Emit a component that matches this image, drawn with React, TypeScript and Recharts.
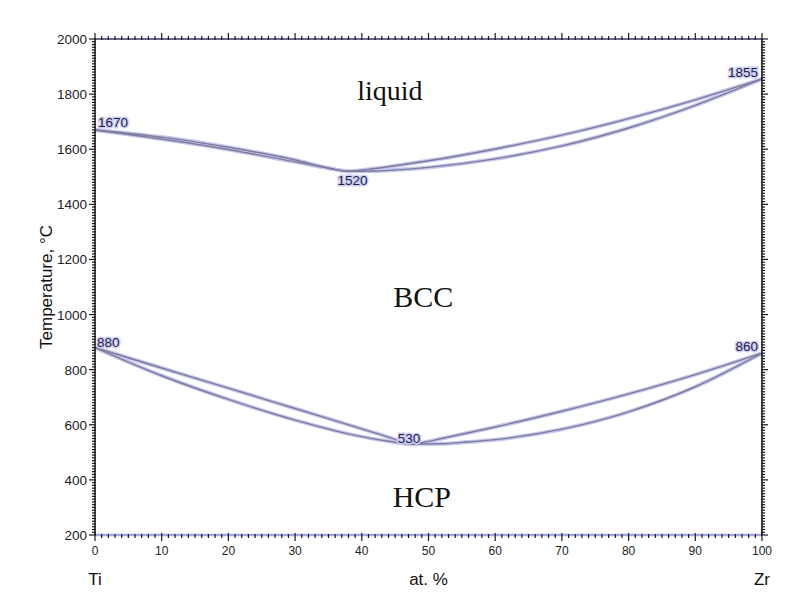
import React from 'react';
import { LineChart, Line, XAxis, YAxis, ReferenceDot } from 'recharts';

// Ti–Zr phase diagram
const liquidus = [
  { at: 0, t: 1670 }, { at: 10, t: 1644 }, { at: 20, t: 1607 }, { at: 30, t: 1561 },
  { at: 35, t: 1532 }, { at: 38, t: 1520 }, { at: 41, t: 1527 }, { at: 45, t: 1540 },
  { at: 50, t: 1558 }, { at: 60, t: 1601 }, { at: 70, t: 1651 }, { at: 80, t: 1711 },
  { at: 90, t: 1779 }, { at: 100, t: 1855 },
];
const solidus = [
  { at: 0, t: 1670 }, { at: 10, t: 1637 }, { at: 20, t: 1599 }, { at: 30, t: 1554 },
  { at: 35, t: 1531 }, { at: 38, t: 1520 }, { at: 42, t: 1521 }, { at: 46, t: 1526 },
  { at: 50, t: 1534 }, { at: 60, t: 1565 }, { at: 70, t: 1612 }, { at: 80, t: 1677 },
  { at: 90, t: 1759 }, { at: 100, t: 1855 },
];
const transusUpper = [
  { at: 0, t: 880 }, { at: 10, t: 806 }, { at: 20, t: 733 }, { at: 30, t: 659 },
  { at: 40, t: 585 }, { at: 44, t: 555 }, { at: 46, t: 539 }, { at: 47.5, t: 530 },
  { at: 49, t: 535 }, { at: 52, t: 550 }, { at: 60, t: 592 }, { at: 70, t: 649 },
  { at: 80, t: 712 }, { at: 90, t: 782 }, { at: 100, t: 860 },
];
const transusLower = [
  { at: 0, t: 880 }, { at: 10, t: 778 }, { at: 20, t: 692 }, { at: 30, t: 617 },
  { at: 40, t: 557 }, { at: 44, t: 540 }, { at: 47.5, t: 530 }, { at: 52, t: 531 },
  { at: 55, t: 536 }, { at: 60, t: 546 }, { at: 70, t: 584 }, { at: 80, t: 647 },
  { at: 90, t: 738 }, { at: 100, t: 860 },
];

const pointLabels = [
  { at: 0, t: 1670, text: '1670', dx: 3, dy: -3, anchor: 'start' },
  { at: 38, t: 1520, text: '1520', dx: 4, dy: 14, anchor: 'middle' },
  { at: 100, t: 1855, text: '1855', dx: -4, dy: -2, anchor: 'end' },
  { at: 0, t: 880, text: '880', dx: 2, dy: -1, anchor: 'start' },
  { at: 47.5, t: 530, text: '530', dx: -14, dy: -1, anchor: 'start' },
  { at: 100, t: 860, text: '860', dx: -4, dy: -2, anchor: 'end' },
];

const phaseLabels = [
  { at: 44.2, t: 1780, text: 'liquid', size: 28 },
  { at: 49.2, t: 1027, text: 'BCC', size: 30 },
  { at: 49, t: 301, text: 'HCP', size: 30 },
];

const xMajorTicks = [0, 10, 20, 30, 40, 50, 60, 70, 80, 90, 100];
const yMajorTicks = [200, 400, 600, 800, 1000, 1200, 1400, 1600, 1800, 2000];
const xNames: Record<number, string> = { 0: 'Ti', 50: 'at. %', 100: 'Zr' };

const xMinorTicks: number[] = [];
for (let i = 0; i <= 100; i++) xMinorTicks.push(i);
const yMinorTicks: number[] = [];
for (let v = 200; v <= 2000; v += 10) yMinorTicks.push(v);

const sans = 'Liberation Sans, Arial, sans-serif';
const serif = 'Liberation Serif, Times New Roman, serif';
const tickColor = '#1a1a1a';

const BottomTick = ({ x, y, payload }: any) => {
  const v = payload.value;
  const major = xMajorTicks.includes(v);
  return (
    <g>
      <line x1={x} x2={x} y1={y - (major ? 2 : 1)} y2={y + (major ? 6 : 3)} stroke={tickColor} strokeWidth={1.2} />
      {major && (
        <text x={x} y={y + 20} textAnchor="middle" fontSize={12} fontFamily={sans} fill="#222">{v}</text>
      )}
      {xNames[v] && (
        <text x={x} y={y + 50} textAnchor="middle" fontSize={17} fontFamily={sans} fill="#111">{xNames[v]}</text>
      )}
    </g>
  );
};

const TopTick = ({ x, y, payload }: any) => {
  const major = xMajorTicks.includes(payload.value);
  return <line x1={x} x2={x} y1={y + 1} y2={y - (major ? 6 : 3)} stroke={tickColor} strokeWidth={1.2} />;
};

const LeftTick = ({ x, y, payload }: any) => {
  const v = payload.value;
  const major = yMajorTicks.includes(v);
  return (
    <g>
      <line x1={x + 1} x2={x - (major ? 6 : 3)} y1={y} y2={y} stroke={tickColor} strokeWidth={1.2} />
      {major && (
        <text x={x - 8} y={y + 5} textAnchor="end" fontSize={13.5} fontFamily={sans} fill="#222">{v}</text>
      )}
    </g>
  );
};

const RightTick = ({ x, y, payload }: any) => {
  const major = yMajorTicks.includes(payload.value);
  return <line x1={x - 1} x2={x + (major ? 6 : 3)} y1={y} y2={y} stroke={tickColor} strokeWidth={1.2} />;
};

const curves = [liquidus, solidus, transusUpper, transusLower];

export default function App() {
  return (
    <div style={{ width: 779, height: 597, background: '#fff' }}>
      <LineChart width={779} height={597} margin={{ top: 21, right: 15, bottom: 20, left: 27 }}>
        <XAxis
          xAxisId="bottom"
          dataKey="at"
          type="number"
          domain={[0, 100]}
          ticks={xMinorTicks}
          interval={0}
          tickSize={0}
          tickMargin={0}
          tickLine={false}
          tick={<BottomTick />}
          height={50}
          axisLine={{ stroke: '#a4a4e4', strokeWidth: 2.5 }}
        />
        <XAxis
          xAxisId="top"
          orientation="top"
          dataKey="at"
          type="number"
          domain={[0, 100]}
          ticks={xMinorTicks}
          interval={0}
          tickSize={0}
          tickMargin={0}
          tickLine={false}
          tick={<TopTick />}
          height={10}
          axisLine={{ stroke: '#3a3a6a', strokeWidth: 1.5 }}
        />
        <YAxis
          yAxisId="left"
          type="number"
          domain={[200, 2000]}
          ticks={yMinorTicks}
          interval={0}
          tickSize={0}
          tickMargin={0}
          tickLine={false}
          tick={<LeftTick />}
          width={60}
          axisLine={{ stroke: tickColor, strokeWidth: 1.5 }}
          label={({ viewBox }: any) => {
            const cx = viewBox.x + 11;
            const cy = viewBox.y + viewBox.height / 2;
            return (
              <text x={cx} y={cy} transform={`rotate(-90 ${cx} ${cy})`} textAnchor="middle" dominantBaseline="central" fontSize={17} fontFamily={sans} fill="#111">
                Temperature, °C
              </text>
            );
          }}
        />
        <YAxis
          yAxisId="right"
          orientation="right"
          type="number"
          domain={[200, 2000]}
          ticks={yMinorTicks}
          interval={0}
          tickSize={0}
          tickMargin={0}
          tickLine={false}
          tick={<RightTick />}
          width={10}
          axisLine={{ stroke: tickColor, strokeWidth: 1.5 }}
        />

        {/* keeps the top/right frame axes tied to the same domain */}
        <Line xAxisId="top" yAxisId="right" data={liquidus} dataKey="t" stroke="none" dot={false} isAnimationActive={false} />

        {curves.map((d, i) => (
          <Line key={'g' + i} xAxisId="bottom" yAxisId="left" data={d} dataKey="t" type="monotone" stroke="#c6c6f2" strokeWidth={4} dot={false} isAnimationActive={false} />
        ))}
        {curves.map((d, i) => (
          <Line key={'c' + i} xAxisId="bottom" yAxisId="left" data={d} dataKey="t" type="monotone" stroke="#7c7c96" strokeWidth={1.4} dot={false} isAnimationActive={false} />
        ))}

        {pointLabels.map((p) => (
          <ReferenceDot
            key={p.text}
            xAxisId="bottom"
            yAxisId="left"
            x={p.at}
            y={p.t}
            r={1}
            fill="none"
            stroke="none"
            label={({ viewBox }: any) => (
              <text
                x={viewBox.x + viewBox.width / 2 + p.dx}
                y={viewBox.y + viewBox.height / 2 + p.dy}
                textAnchor={p.anchor}
                fontSize={13.5}
                fontFamily={sans}
                fill="#1e1e4a"
                stroke="#cfcff4"
                strokeWidth={3}
                paintOrder="stroke"
              >
                {p.text}
              </text>
            )}
          />
        ))}

        {phaseLabels.map((p) => (
          <ReferenceDot
            key={p.text}
            xAxisId="bottom"
            yAxisId="left"
            x={p.at}
            y={p.t}
            r={1}
            fill="none"
            stroke="none"
            label={({ viewBox }: any) => (
              <text
                x={viewBox.x + viewBox.width / 2}
                y={viewBox.y + viewBox.height / 2}
                textAnchor="middle"
                fontSize={p.size}
                fontFamily={serif}
                fill="#111"
              >
                {p.text}
              </text>
            )}
          />
        ))}
      </LineChart>
    </div>
  );
}
